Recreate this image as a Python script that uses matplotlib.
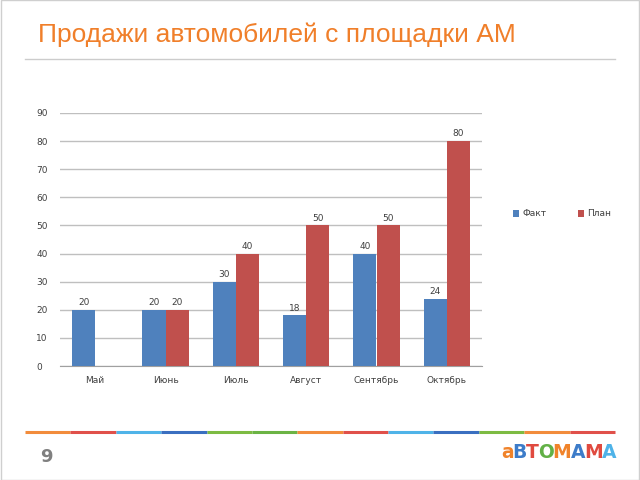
import numpy as np
import matplotlib
matplotlib.use("Agg")
import matplotlib.pyplot as plt
from matplotlib.patches import Rectangle
from matplotlib.lines import Line2D

# chart data
months = ["Май", "Июнь", "Июль", "Август", "Сентябрь", "Октябрь"]
fact = [20, 20, 30, 18, 40, 24]
plan = [None, 20, 40, 50, 50, 80]
series_names = ["Факт", "План"]

# footer decoration
stripe_colors = ["#F28C3C", "#E0504A", "#4FB3E8", "#3A6FC0", "#7DBB42", "#6BB344",
                 "#F28C3C", "#E0504A", "#4FB3E8", "#3A6FC0", "#7DBB42", "#F28C3C", "#E0504A"]
logo_letters = ["а", "В", "Т", "О", "М", "А", "М", "А"]
logo_colors = ["#F0832A", "#3D7CC9", "#E04A3F", "#62B046", "#F0832A", "#3D7CC9", "#E04A3F", "#4FB3E8"]

plt.rcParams["font.family"] = ["DejaVu Sans"]
fig = plt.figure(figsize=(6.4, 4.8), dpi=100)

# frame around slide
fig.patches.append(Rectangle((0.001, 0.001), 0.998, 0.998, transform=fig.transFigure,
                             fill=False, edgecolor="#cfcfcf", linewidth=1))

# title and separator
fig.text(38 / 640, 1 - 35 / 480, "Продажи автомобилей с площадки АМ", color="#F07F2A",
         fontsize=19, va="center", ha="left", family="Liberation Sans")
fig.add_artist(Line2D([25 / 640, 615 / 640], [1 - 59 / 480] * 2, transform=fig.transFigure,
                      color="#cccccc", linewidth=1))

ax = fig.add_axes([60 / 640, 1 - 366 / 480, 422 / 640, 253 / 480])
x = np.arange(len(months))
w = 0.33
fact_vals = [v if v is not None else 0 for v in fact]
plan_vals = [v if v is not None else 0 for v in plan]
ax.bar(x - w / 2, fact_vals, w, color="#4F81BD", label=series_names[0], zorder=3)
ax.bar(x + w / 2, plan_vals, w, color="#C0504D", label=series_names[1], zorder=3)

for i in range(len(months)):
    if fact[i] is not None:
        ax.text(x[i] - w / 2, fact[i] + 1, str(fact[i]), ha="center", va="bottom",
                fontsize=6.5, color="#404040")
    if plan[i] is not None:
        ax.text(x[i] + w / 2, plan[i] + 1, str(plan[i]), ha="center", va="bottom",
                fontsize=6.5, color="#404040")

ax.set_xlim(-0.5, len(months) - 0.5)
ax.set_ylim(0, 90)
ax.set_yticks(range(0, 91, 10))
ax.set_xticks(x)
ax.set_xticklabels(months)
ax.tick_params(axis="both", labelsize=6.5, labelcolor="#404040", length=0)
ax.tick_params(axis="x", pad=7)
ax.tick_params(axis="y", pad=17)
for lbl in ax.get_yticklabels():
    lbl.set_horizontalalignment("left")
ax.yaxis.grid(True, color="#bfbfbf", linewidth=1, zorder=0)
ax.set_axisbelow(True)
for side in ["top", "right", "left"]:
    ax.spines[side].set_visible(False)
ax.spines["bottom"].set_color("#a0a0a0")

fig.legend(loc="center left", bbox_to_anchor=(505 / 640, 1 - 214 / 480), ncol=2, frameon=False,
           fontsize=6.5, handlelength=0.7, handleheight=0.7, columnspacing=3.5, handletextpad=0.3,
           labelcolor="#404040")

# footer stripe
x0, x1 = 25 / 640, 615 / 640
seg = (x1 - x0) / len(stripe_colors)
for i, c in enumerate(stripe_colors):
    fig.add_artist(Line2D([x0 + i * seg, x0 + (i + 1) * seg], [1 - 432 / 480] * 2,
                          transform=fig.transFigure, color=c, linewidth=2.2, solid_capstyle="butt"))

fig.text(40 / 640, 1 - 457 / 480, "9", color="#808080", fontsize=13, fontweight="bold",
         va="center", ha="left")

# logo: place letters one after another using measured widths
renderer = fig.canvas.get_renderer()
lx = 501 / 640
for ch, c in zip(logo_letters, logo_colors):
    t = fig.text(lx, 1 - 452 / 480, ch, color=c, fontsize=13.5, fontweight="bold",
                 va="center", ha="left")
    bb = t.get_window_extent(renderer=renderer)
    lx += (bb.width - 1) / 640

fig.savefig("out.png", dpi=100)
